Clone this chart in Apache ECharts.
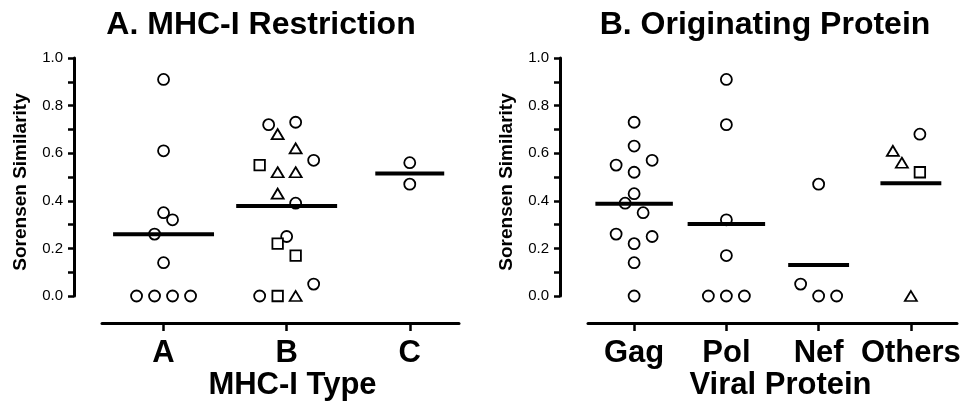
<!DOCTYPE html>
<html lang="en">
<head>
    <meta charset="UTF-8">
    <style>
        html, body { margin: 0; padding: 0; background: #fff; }
        #main { width: 973px; height: 405px; }
    </style>
    <script src="https://cdn.jsdelivr.net/npm/echarts@6/dist/echarts.min.js"></script>
    <title>Sorensen Similarity</title>
</head>
<body>
    <div id="main"></div>
    <script>
        var mhcCats = ['A', 'B', 'C'];
        var protCats = ['Gag', 'Pol', 'Nef', 'Others'];

        // point = [category index, jitter slot (half a marker), similarity]
        var mhcCircles = [
            [0, 0, 0.91], [0, 0, 0.61], [0, 0, 0.35], [0, 1, 0.32], [0, -1, 0.26], [0, 0, 0.14],
            [0, -3, 0], [0, -1, 0], [0, 1, 0], [0, 3, 0],
            [1, -2, 0.72], [1, 1, 0.73], [1, 3, 0.57], [1, 1, 0.39], [1, 0, 0.25], [1, 3, 0.05], [1, -3, 0],
            [2, 0, 0.56], [2, 0, 0.47]
        ];
        var mhcTriangles = [[1, -1, 0.68], [1, 1, 0.62], [1, -1, 0.52], [1, 1, 0.52], [1, -1, 0.43], [1, 1, 0]];
        var mhcSquares = [[1, -3, 0.55], [1, -1, 0.22], [1, 1, 0.17], [1, -1, 0]];

        var protCircles = [
            [0, 0, 0.73], [0, 0, 0.63], [0, -2, 0.55], [0, 2, 0.57], [0, 0, 0.52], [0, 0, 0.43], [0, -1, 0.39],
            [0, 1, 0.35], [0, -2, 0.26], [0, 2, 0.25], [0, 0, 0.22], [0, 0, 0.14], [0, 0, 0],
            [1, 0, 0.91], [1, 0, 0.72], [1, 0, 0.32], [1, 0, 0.17], [1, -2, 0], [1, 0, 0], [1, 2, 0],
            [2, 0, 0.47], [2, -2, 0.05], [2, 0, 0], [2, 2, 0],
            [3, 1, 0.68]
        ];
        var protTriangles = [[3, -2, 0.61], [3, -1, 0.56], [3, 0, 0]];
        var protSquares = [[3, 1, 0.52]];

        // half length of the mean bars, in category units
        var mhcBar = [0.41, 0.41, 0.28];
        var protBar = [0.42, 0.42, 0.33, 0.33];

        var FONT = 'Liberation Sans, Arial, sans-serif';
        var BLACK = '#000';
        var panels = [
            { left: 102, width: 357, min: 0.5, max: 3.4, cats: mhcCats, name: 'MHC-I Type', pad: 24,
              sets: [mhcCircles, mhcTriangles, mhcSquares], bar: mhcBar },
            { left: 588, width: 369, min: 0.5, max: 4.5, cats: protCats, name: 'Viral Protein', pad: 16,
              sets: [protCircles, protTriangles, protSquares], bar: protBar }
        ];
        var shapes = [
            { symbol: 'circle', size: 11 },
            { symbol: 'triangle', size: [12, 10] },
            { symbol: 'rect', size: 10.5 }
        ];

        var grid = [], xAxis = [], yAxis = [], series = [];
        panels.forEach(function (p, k) {
            var step = 9 * (p.max - p.min) / p.width;
            var idx = p.cats.map(function (c, i) { return i + 1; });
            grid.push({ left: p.left, width: p.width, top: 58, height: 238, outerBoundsMode: 'none' });
            xAxis.push({
                type: 'value', gridIndex: k, min: p.min, max: p.max, offset: 27, position: 'bottom',
                splitLine: { show: false },
                axisLine: { show: true, onZero: false, lineStyle: { color: BLACK, width: 3 } },
                axisTick: { show: true, customValues: idx, length: 8, lineStyle: { color: BLACK, width: 2.5 } },
                axisLabel: {
                    customValues: idx, margin: 15, color: BLACK, fontSize: 31, fontWeight: 'bold', fontFamily: FONT,
                    formatter: function (v) { return p.cats[Math.round(v) - 1] || ''; }
                },
                name: p.name, nameLocation: 'middle', nameGap: 47, nameMoveOverlap: false,
                nameTextStyle: { color: BLACK, fontSize: 31, fontWeight: 'bold', fontFamily: FONT, padding: [0, 0, 0, p.pad] }
            });
            yAxis.push({
                type: 'value', gridIndex: k, min: 0, max: 1, interval: 0.2, offset: 28,
                splitLine: { show: false },
                axisLine: { show: true, onZero: false, lineStyle: { color: BLACK, width: 3 } },
                axisTick: { show: true, length: 6, lineStyle: { color: BLACK, width: 2.5 } },
                minorTick: { show: true, splitNumber: 2, length: 6, lineStyle: { color: BLACK, width: 2.5 } },
                axisLabel: { margin: 11, color: BLACK, fontSize: 15, fontFamily: FONT,
                    formatter: function (v) { return v.toFixed(1); } },
                name: 'Sorensen Similarity', nameLocation: 'middle', nameGap: 44, nameRotate: 90,
                nameTextStyle: { color: BLACK, fontSize: 19, fontWeight: 'bold', fontFamily: FONT, padding: [0, 10, 0, 0] }
            });

            // mean bars
            p.cats.forEach(function (c, i) {
                var vals = [];
                p.sets.forEach(function (s) {
                    s.forEach(function (d) { if (d[0] === i) vals.push(d[2]); });
                });
                var m = vals.reduce(function (a, b) { return a + b; }, 0) / vals.length;
                series.push({
                    type: 'line', xAxisIndex: k, yAxisIndex: k, symbol: 'none', silent: true,
                    lineStyle: { color: BLACK, width: 4 },
                    data: [[i + 1 - p.bar[i], m], [i + 1 + p.bar[i], m]]
                });
            });

            p.sets.forEach(function (s, j) {
                series.push({
                    type: 'scatter', xAxisIndex: k, yAxisIndex: k,
                    symbol: shapes[j].symbol, symbolSize: shapes[j].size,
                    itemStyle: { color: '#fff', borderColor: BLACK, borderWidth: 1.8, opacity: 1 },
                    data: s.map(function (d) { return [d[0] + 1 + d[1] * step, d[2]]; })
                });
            });
        });

        var myChart = echarts.init(document.getElementById('main'));
        myChart.setOption({
            animation: false,
            grid: grid,
            xAxis: xAxis,
            yAxis: yAxis,
            graphic: [
                { type: 'text', x: 261, y: 25, style: { text: 'A. MHC-I Restriction',
                    fill: BLACK, font: 'bold 32px ' + FONT, textAlign: 'center', textVerticalAlign: 'middle' } },
                { type: 'text', x: 765, y: 25, style: { text: 'B. Originating Protein',
                    fill: BLACK, font: 'bold 32px ' + FONT, textAlign: 'center', textVerticalAlign: 'middle' } }
            ],
            series: series
        });
    </script>
</body>
</html>
